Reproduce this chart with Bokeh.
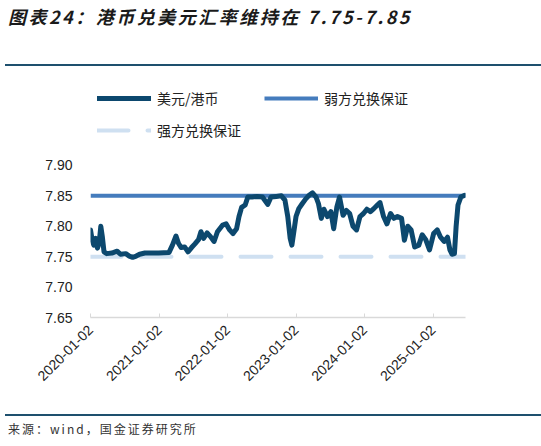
import pandas as pd
from bokeh.plotting import figure
from bokeh.models import (Div, Range1d, FixedTicker, DatetimeTickFormatter,
                          PrintfTickFormatter, Legend, LegendItem)
from bokeh.layouts import column
from bokeh.embed import file_html
from bokeh.resources import INLINE

# datos: USD/HKD
fechas = ["2020-01-02", "2020-01-11", "2020-01-20", "2020-01-30", "2020-02-08", "2020-02-17",
          "2020-02-26", "2020-03-05", "2020-03-14", "2020-03-29", "2020-04-25", "2020-05-23",
          "2020-06-10", "2020-07-08", "2020-07-27", "2020-08-14", "2020-09-02", "2020-09-20",
          "2020-10-18", "2020-11-24", "2020-12-30", "2021-02-24", "2021-03-14", "2021-04-02",
          "2021-04-15", "2021-04-29", "2021-05-18", "2021-06-05", "2021-06-24", "2021-07-12",
          "2021-07-31", "2021-08-13", "2021-08-27", "2021-09-15", "2021-10-03", "2021-10-22",
          "2021-11-09", "2021-12-07", "2021-12-25", "2022-01-13", "2022-01-31", "2022-02-19",
          "2022-03-04", "2022-03-18", "2022-04-06", "2022-04-20", "2022-05-13", "2022-06-09",
          "2022-07-07", "2022-08-04", "2022-08-22", "2022-09-19", "2022-10-16", "2022-11-04",
          "2022-11-19", "2022-12-02", "2022-12-11", "2022-12-20", "2023-01-02", "2023-01-17",
          "2023-02-04", "2023-02-23", "2023-03-13", "2023-03-31", "2023-04-19", "2023-05-02",
          "2023-05-17", "2023-05-31", "2023-06-19", "2023-07-07", "2023-07-22", "2023-08-08",
          "2023-08-22", "2023-09-10", "2023-09-28", "2023-10-15", "2023-11-02", "2023-11-21",
          "2023-12-09", "2023-12-28", "2024-01-15", "2024-02-03", "2024-02-21", "2024-03-11",
          "2024-03-25", "2024-04-13", "2024-05-01", "2024-05-20", "2024-06-07", "2024-06-26",
          "2024-07-18", "2024-08-02", "2024-08-20", "2024-09-07", "2024-09-26", "2024-10-18",
          "2024-11-05", "2024-11-24", "2024-12-14", "2025-01-05", "2025-01-24", "2025-02-11",
          "2025-03-02", "2025-03-20", "2025-04-02", "2025-04-13", "2025-04-26", "2025-05-05",
          "2025-05-15", "2025-05-30", "2025-06-20"]
usdhkd = [7.794, 7.777, 7.769, 7.780, 7.764, 7.772,
          7.800, 7.783, 7.758, 7.755, 7.756, 7.759,
          7.754, 7.755, 7.751, 7.749, 7.751, 7.754,
          7.756, 7.756, 7.756, 7.757, 7.769, 7.784,
          7.772, 7.765, 7.766, 7.758, 7.765, 7.771,
          7.778, 7.791, 7.780, 7.789, 7.783, 7.775,
          7.791, 7.802, 7.804, 7.794, 7.788, 7.796,
          7.816, 7.831, 7.835, 7.848, 7.848, 7.849,
          7.848, 7.836, 7.848, 7.849, 7.850, 7.843,
          7.816, 7.780, 7.769, 7.788, 7.816, 7.829,
          7.837, 7.845, 7.851, 7.855, 7.848, 7.837,
          7.813, 7.828, 7.816, 7.824, 7.796, 7.832,
          7.848, 7.818, 7.826, 7.821, 7.800, 7.794,
          7.816, 7.821, 7.828, 7.824, 7.829, 7.835,
          7.839, 7.816, 7.804, 7.821, 7.813, 7.816,
          7.813, 7.777, 7.800, 7.794, 7.766, 7.769,
          7.786, 7.778, 7.761, 7.788, 7.794, 7.782,
          7.775, 7.782, 7.761, 7.754, 7.755, 7.800,
          7.835, 7.848, 7.851]

debil = 7.85     # 弱方兑换保证
fuerte = 7.75    # 强方兑换保证
inicio = "2020-01-02"
fin = "2025-06-24"
ticks_x = ["2020-01-02", "2021-01-02", "2022-01-02", "2023-01-02", "2024-01-02", "2025-01-02"]
ticks_y = [7.65, 7.70, 7.75, 7.80, 7.85, 7.90]

x = pd.to_datetime(fechas)
xb = pd.to_datetime([inicio, fin])

FONT_CN = "Noto Sans CJK SC"

# TÍTULO
titulo = Div(text='<div style="font-family:\'Noto Sans CJK SC\';font-size:18px;font-weight:bold;'
                  'font-style:italic;letter-spacing:2.5px;color:#1a1a1a;line-height:22px;'
                  'padding-top:5px;padding-left:8px;white-space:nowrap;">'
                  '图表24：港币兑美元汇率维持在 7.75-7.85</div>',
             width=541, height=64, margin=0)
regla1 = Div(text="", width=536, height=2, margin=(0, 0, 0, 5),
             styles={"background-color": "#1e506e"})

# FIGURA
p = figure(width=541, height=348, x_axis_type="datetime", output_backend="svg",
           toolbar_location=None, min_border_left=90, min_border_right=76,
           min_border_top=15, min_border_bottom=97,
           x_range=Range1d(pd.Timestamp(inicio), pd.Timestamp(fin)),
           y_range=Range1d(7.65, 8.038))
p.outline_line_color = None
p.grid.grid_line_color = None

r_fuerte = p.line(xb, [fuerte, fuerte], line_width=4, color="#cfe0f1",
                  line_dash="31 19", line_cap="round")
r_debil = p.line(xb, [debil, debil], line_width=4, color="#457cbd")
r_main = p.line(x, usdhkd, line_width=5, color="#0c486e", line_join="round", line_cap="round")

leg = Legend(items=[LegendItem(label="美元/港币", renderers=[r_main]),
                    LegendItem(label="弱方兑换保证", renderers=[r_debil]),
                    LegendItem(label="强方兑换保证", renderers=[r_fuerte])],
             location="top_left", orientation="horizontal", ncols=2,
             margin=7, padding=8, spacing=12, glyph_width=54, glyph_height=20,
             label_width=95, label_height=20, label_standoff=6,
             label_text_font=FONT_CN, label_text_font_size="14px", label_text_color="#222222",
             border_line_color=None, background_fill_alpha=0)
p.add_layout(leg)

# ejes
p.xaxis.ticker = FixedTicker(ticks=[pd.Timestamp(t).value // 10**6 for t in ticks_x])
fmt = "%Y-%m-%d"
p.xaxis.formatter = DatetimeTickFormatter(milliseconds=fmt, seconds=fmt, minsec=fmt, minutes=fmt,
                                          hourmin=fmt, hours=fmt, days=fmt, months=fmt, years=fmt)
p.xaxis.major_label_orientation = 3.14159265 / 4
p.xaxis.axis_line_color = "#d9d9d9"
p.xaxis.axis_line_width = 1.5
p.xaxis.major_tick_line_color = "#d9d9d9"
p.xaxis.major_tick_in = 4
p.xaxis.major_tick_out = 0
p.xaxis.minor_tick_line_color = None
p.xaxis.major_label_standoff = 10

p.yaxis.ticker = FixedTicker(ticks=ticks_y)
p.yaxis.formatter = PrintfTickFormatter(format="%.2f")
p.yaxis.axis_line_color = None
p.yaxis.major_tick_line_color = None
p.yaxis.minor_tick_line_color = None
p.yaxis.major_label_standoff = 12

for ax in (p.xaxis, p.yaxis):
    ax.major_label_text_font = "Liberation Sans"
    ax.major_label_text_font_size = "14px"
    ax.major_label_text_color = "#222222"

regla2 = Div(text="", width=536, height=2, margin=(0, 0, 0, 5),
             styles={"background-color": "#1e506e"})
fuente = Div(text='<div style="font-family:\'Noto Sans CJK SC\';font-size:12px;letter-spacing:2px;'
                  'color:#333333;line-height:16px;padding-top:5px;padding-left:8px;'
                  'white-space:nowrap;">来源：wind，国金证券研究所</div>',
             width=541, height=30, margin=0)

lay = column(titulo, regla1, p, regla2, fuente, spacing=0)

open("out.html", "w").write(file_html(lay, INLINE, "港币兑美元汇率"))
